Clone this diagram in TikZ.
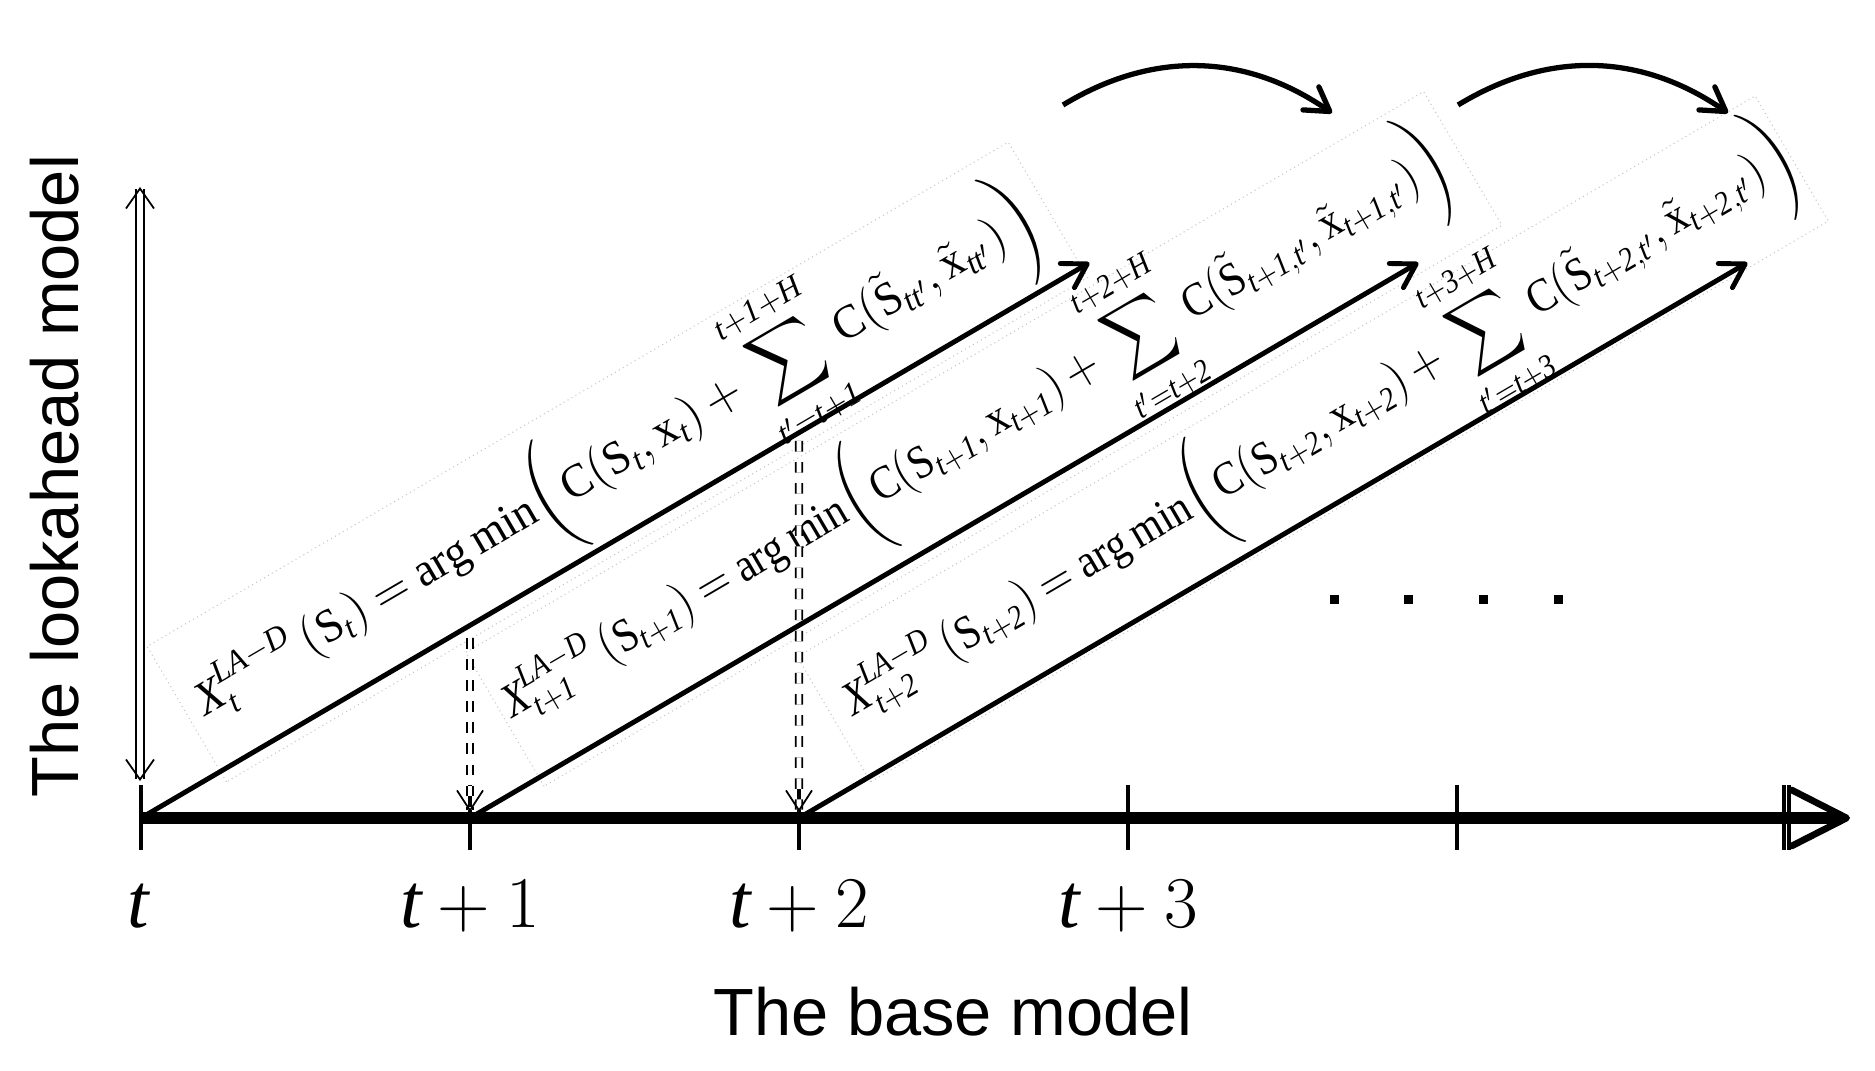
\documentclass[tikz,border=0pt]{standalone}
\usepackage{amsmath}
\usepackage{graphicx}
\usepackage{fontspec}
\setmainfont{Liberation Serif}
\newfontfamily\labelfont{Liberation Sans}
\usepackage{tikz}
\usetikzlibrary{arrows.meta, positioning, calc}

% one lookahead policy, written along its arrow
\newcommand{\bigpar}{\vcenter{\hbox{\rule{0pt}{1.15cm}}}}
\newcommand{\lbig}{\mathopen{\left(\bigpar\right.}}
\newcommand{\rbig}{\mathclose{\left.\bigpar\right)}}
\newcommand{\laformula}[4]{\medmuskip=3mu\thickmuskip=4mu\nulldelimiterspace=0pt
  $\displaystyle \mathit{X^{LA-D}_{#1}}\,(\mathrm{S}_{\mathit{#1}})=\mathrm{arg\,min}\lbig\mathrm{C}(\mathrm{S}_{\mathit{#1}},\mathrm{x}_{\mathit{#1}})+\sum_{\mathit{t'=#2}}^{\mathit{#3}}\mathrm{C}(\tilde{\mathrm{S}}_{\mathit{#4}},\tilde{\mathrm{x}}_{\mathit{#4}})\rbig$}

\begin{document}
\begin{tikzpicture}[
  axis/.style   ={line width=3.4pt, -{Straight Barb[length=5.5mm,width=5.6mm,line width'=1.9pt,round]}},
  tick/.style   ={line width=1.2pt},
  diag/.style   ={line width=1.4pt, -{Straight Barb[length=2.3mm,width=2.8mm,round]}},
  drop/.style   ={double, double distance=1.4pt, line width=0.5pt, dashed,
                  -{Straight Barb[length=2mm,width=2.6mm]}, shorten >=0.06cm},
  hop/.style    ={line width=1.5pt, -{Straight Barb[length=2.3mm,width=2.8mm,round]}},
  updown/.style ={double, double distance=1.6pt, line width=0.5pt,
                  {Straight Barb[length=2mm,width=2.8mm]}-{Straight Barb[length=2mm,width=2.8mm]}},
  band/.style   ={draw=gray!45, line width=0.3pt, densely dotted},
  formula/.style={anchor=base west, inner sep=0pt, transform shape,
                  font=\fontsize{13.4}{16}\selectfont},
  tlabel/.style ={anchor=base, inner sep=0pt, font=\fontsize{22}{26}\selectfont},
  axlabel/.style={inner sep=0pt, font=\labelfont\fontsize{19}{23}\selectfont}
]
\useasboundingbox (0,0) rectangle (18.75,10.70);
% ---- time axis -------------------------------------------------------------
\coordinate (t0) at (1.41,2.52);
\coordinate (tend) at (18.50,2.52);
\foreach \i in {1,...,5} \coordinate (t\i) at ($(t0)+(3.29*\i,0)$);
\draw[axis] (t0) -- (tend);
\foreach \i in {0,...,4} \draw[tick] ($(t\i)+(0,0.33)$) -- ($(t\i)+(0,-0.32)$);
\draw[tick] ($(t5)+(-0.02,0.33)$) -- ($(t5)+(-0.02,-0.32)$);
\draw[tick] ($(t5)+(0.03,0.33)$) -- ($(t5)+(0.03,-0.32)$);
\node[tlabel] (l0) at (1.38,1.43) {$\mathit{t}$};
\node[tlabel] (l1) at (4.70,1.43) {$\mathit{t}+1$};
\node[tlabel] (l2) at (7.99,1.43) {$\mathit{t}+2$};
\node[tlabel] (l3) at (11.28,1.43) {$\mathit{t}+3$};
% ---- lookahead arrows and policies -----------------------------------------
\begin{scope}[shift={(t0)}, rotate=30.35]
  \draw[band] (0.92,-0.12) rectangle (10.9,1.45);
  \node[formula] (f0) at (1.06,0.55) {\scalebox{0.96}[1]{\laformula{t}{t+1}{t+1+H}{tt'}}};
\end{scope}
\begin{scope}[shift={(t1)}, rotate=30.35]
  \draw[band] (0.80,-0.10) rectangle (11.9,1.45);
  \node[formula] (f1) at (0.86,0.64) {\scalebox{0.88}[1]{\laformula{t+1}{t+2}{t+2+H}{t+1,t'}}};
\end{scope}
\begin{scope}[shift={(t2)}, rotate=30.35]
  \draw[band] (0.80,-0.05) rectangle (11.9,1.40);
  \node[formula] (f2) at (0.98,0.60) {\scalebox{0.885}[1]{\laformula{t+2}{t+3}{t+3+H}{t+2,t'}}};
\end{scope}
\draw[diag] (t0) -- ++(30.35:10.99) coordinate (h0);
\draw[diag] (t1) -- ++(30.35:10.99) coordinate (h1);
\draw[diag] (t2) -- ++(30.35:10.99) coordinate (h2);
% ---- roll forward ----------------------------------------------------------
\coordinate (d1) at (4.70,4.32);
\coordinate (d2) at (7.99,6.29);
\draw[drop] (d1) -- (t1);
\draw[drop] (d2) -- (t2);
\coordinate (a0) at (10.63,9.65);
\coordinate (a1) at (13.32,9.57);
\coordinate (b0) at (14.58,9.65);
\coordinate (b1) at (17.28,9.57);
\draw[hop] (a0) to[bend left=33] (a1);
\draw[hop] (b0) to[bend left=33] (b1);
\foreach \x in {13.34,14.08,14.83,15.58} \fill (\x-0.045,4.66) rectangle ++(0.09,0.09);
% ---- model labels ----------------------------------------------------------
\coordinate (v0) at (1.40,2.89);
\coordinate (v1) at (1.40,8.83);
\draw[updown] (v0) -- (v1);
\node[axlabel, rotate=90] (lam) at (0.55,5.94) {The lookahead model};
\node[axlabel, anchor=base] (bm) at (9.53,0.35) {The base model};
\end{tikzpicture}
\end{document}
